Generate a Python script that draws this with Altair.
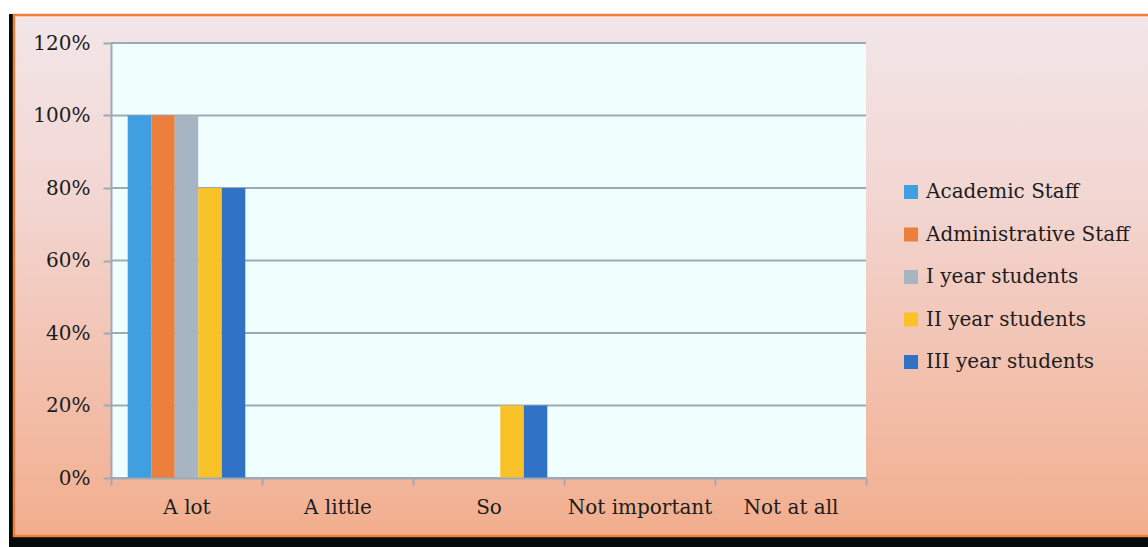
import altair as alt
import pandas as pd

categories = ["A lot", "A little", "So", "Not important", "Not at all"]
groups = ["Academic Staff", "Administrative Staff", "I year students", "II year students", "III year students"]
academic = [1.0, 0.0, 0.0, 0.0, 0.0]
administrative = [1.0, 0.0, 0.0, 0.0, 0.0]
year1 = [1.0, 0.0, 0.0, 0.0, 0.0]
year2 = [0.8, 0.0, 0.2, 0.0, 0.0]
year3 = [0.8, 0.0, 0.2, 0.0, 0.0]
y_ticks = [0, 0.2, 0.4, 0.6, 0.8, 1.0, 1.2]
colors = ["#3F9FE0", "#EB7F3B", "#A7B5C2", "#F9C228", "#2F72C6"]

series = [academic, administrative, year1, year2, year3]
rows = []
for g, vals in zip(groups, series):
    for c, v in zip(categories, vals):
        rows.append({"category": c, "group": g, "value": v})
df = pd.DataFrame(rows)
grid_df = pd.DataFrame({"t": y_ticks})

W, H = 755, 435
FONT = "DejaVu Serif"
FS = 20
TXT = "#1c1c1c"
one = alt.Data(values=[{}])

shadow = alt.Chart(one).mark_rect(color="#050a0a").encode(
    x=alt.value(-102), x2=alt.value(1100), y=alt.value(-29), y2=alt.value(520)
)
panel = alt.Chart(one).mark_rect(
    fill=alt.Gradient(
        gradient="linear", x1=0, y1=0, x2=0, y2=1,
        stops=[alt.GradientStop(color="#F2E6E8", offset=0),
               alt.GradientStop(color="#F2D6D2", offset=0.35),
               alt.GradientStop(color="#F2AE8E", offset=1)]),
    stroke="#EE7F3A", strokeWidth=2.5
).encode(x=alt.value(-97), x2=alt.value(1100), y=alt.value(-28), y2=alt.value(493))
plotbg = alt.Chart(one).mark_rect(color="#F0FFFE").encode(
    x=alt.value(0), x2=alt.value(W), y=alt.value(0), y2=alt.value(H)
)

yscale = alt.Scale(domain=[0, 1.2])
yaxis = alt.Axis(values=y_ticks, format=".0%", grid=False, tickSize=8, tickWidth=2,
                 tickColor="#9DA9B6", domainColor="#9DA9B6", domainWidth=2,
                 labelFont=FONT, labelFontSize=FS, labelColor=TXT,
                 labelPadding=13, zindex=1)

grid = alt.Chart(grid_df).mark_rule(color="#9DA9B6", strokeWidth=2).encode(
    y=alt.Y("t:Q", scale=yscale, axis=yaxis, title=None),
    x=alt.value(0), x2=alt.value(W)
)

bars = alt.Chart(df).mark_bar(strokeWidth=0).encode(
    x=alt.X("category:N", sort=categories, title=None,
            scale=alt.Scale(paddingInner=0, paddingOuter=0),
            axis=alt.Axis(labelAngle=0, tickBand="extent", tickSize=7, tickWidth=2,
                          tickColor="#9DA9B6", domainColor="#9DA9B6", domainWidth=2,
                          labelFont=FONT, labelFontSize=FS, labelColor=TXT,
                          labelPadding=12, zindex=1)),
    xOffset=alt.XOffset("group:N", sort=groups,
                        scale=alt.Scale(paddingInner=0, paddingOuter=0.71)),
    y=alt.Y("value:Q", scale=yscale, title=None, axis=yaxis),
    color=alt.Color("group:N", sort=groups,
                    scale=alt.Scale(domain=groups, range=colors),
                    legend=alt.Legend(title=None, orient="none", legendX=790, legendY=139,
                                      symbolType="square", symbolSize=196, symbolStrokeWidth=0,
                                      labelFont=FONT, labelFontSize=FS, labelColor=TXT,
                                      rowPadding=22.5, labelOffset=5, labelLimit=300))
)

chart = alt.layer(shadow, panel, plotbg, grid, bars).resolve_scale(y="shared").properties(
    width=W, height=H,
    padding={"left": 111, "top": 43, "right": 282, "bottom": 69},
    autosize=alt.AutoSizeParams(type="none"),
    background="white"
).configure_view(stroke=None)

chart.save("out.html", embed_options={"renderer": "svg", "actions": False})
